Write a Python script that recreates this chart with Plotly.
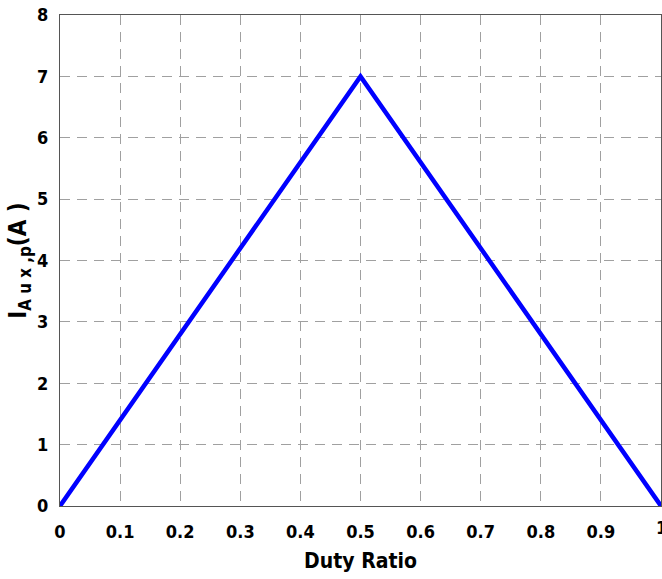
import plotly.graph_objects as go

duty = [0, 0.5, 1]
current = [0, 7, 0]
x_ticks = [0, 0.1, 0.2, 0.3, 0.4, 0.5, 0.6, 0.7, 0.8, 0.9, 1]
x_tick_text = ["0", "0.1", "0.2", "0.3", "0.4", "0.5", "0.6", "0.7", "0.8", "0.9", "1"]
y_ticks = [0, 1, 2, 3, 4, 5, 6, 7, 8]

font_fam = "DejaVu Sans Condensed, Liberation Sans Narrow, Arial Narrow, sans-serif"

fig = go.Figure()
fig.add_trace(go.Scatter(x=duty, y=current, mode="lines",
                         line=dict(color="#0000ff", width=4.5)))

fig.update_layout(
    width=662, height=579,
    margin=dict(l=60, r=1, t=15, b=73),
    paper_bgcolor="white", plot_bgcolor="white",
    showlegend=False,
    font=dict(family=font_fam, color="black"),
)
fig.update_xaxes(
    range=[0, 1], tickvals=x_ticks[:-1], ticktext=["<b>%s</b>" % t for t in x_tick_text[:-1]],
    tickfont=dict(size=18, family=font_fam),
    showgrid=True, gridcolor="#a0a0a0", griddash="10px,7px", gridwidth=1,
    showline=True, linecolor="#555555", linewidth=1, mirror=True,
    zeroline=False, automargin=False, ticks="", ticklabelstandoff=9,
    title=dict(text="<b>Duty Ratio</b>", font=dict(size=21, family=font_fam), standoff=12),
)
fig.update_yaxes(
    range=[0, 8], tickvals=y_ticks, ticktext=["<b>%d</b>" % v for v in y_ticks],
    tickfont=dict(size=18, family=font_fam),
    showgrid=True, gridcolor="#a0a0a0", griddash="10px,7px", gridwidth=1,
    showline=True, linecolor="#555555", linewidth=1, mirror=True,
    zeroline=False, automargin=False, ticks="", ticklabelstandoff=7,
    title=dict(text="<b>I<sub>A u x ,p</sub>(A )</b>", font=dict(size=24, family=font_fam), standoff=3),
)
# last x tick label "1" sits at the right page edge (partly cut, as in the reference)
fig.add_annotation(x=x_ticks[-1], xref="x", y=0, yref="paper", yanchor="top", yshift=-9,
                   text="<b>%s</b>" % x_tick_text[-1], showarrow=False,
                   font=dict(size=18, family=font_fam, color="black"))

fig.write_html("out.html")
